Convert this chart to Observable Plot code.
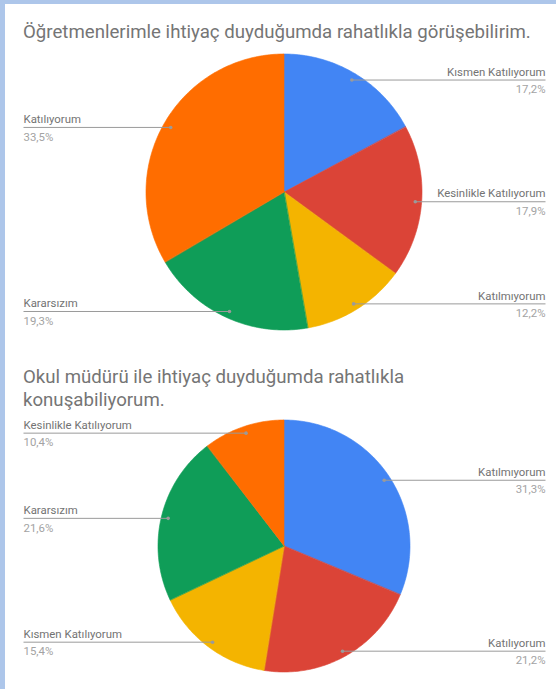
<!DOCTYPE html>
<html><head><meta charset="utf-8">
<script src="https://cdn.jsdelivr.net/npm/d3@7"></script>
<script src="https://cdn.jsdelivr.net/npm/@observablehq/plot@0.6"></script>
<style>
body{margin:0;background:#fff;font-family:Roboto, sans-serif;}
#page{position:relative;width:556px;height:689px;overflow:hidden;background:#fff;}
#bl{position:absolute;left:0;top:0;width:5px;height:689px;background:#adc6ea;}
#bt{position:absolute;left:0;top:0;width:556px;height:4px;background:#adc6ea;}
.title{position:absolute;left:23px;font-size:18.65px;color:#757575;line-height:23px;white-space:nowrap;font-family:Roboto, sans-serif;}
.chart{position:absolute;left:0;}
</style></head><body>
<div id="page">
 <div id="bt"></div><div id="bl"></div>
 <div class="title" id="t1" style="top:21px"></div>
 <div class="chart" id="c1" style="top:48px"></div>
 <div class="title" id="t2" style="top:366px"></div>
 <div class="chart" id="c2" style="top:412px"></div>
</div>
<script>
const title1 = "Öğretmenlerimle ihtiyaç duyduğumda rahatlıkla görüşebilirim.";
const categories1 = ["Kısmen Katılıyorum","Kesinlikle Katılıyorum","Katılmıyorum","Kararsızım","Katılıyorum"];
const values1 = [17.2,17.9,12.2,19.3,33.5];

const title2Lines = ["Okul müdürü ile ihtiyaç duyduğumda rahatlıkla","konuşabiliyorum."];
const categories2 = ["Katılmıyorum","Katılıyorum","Kısmen Katılıyorum","Kararsızım","Kesinlikle Katılıyorum"];
const values2 = [31.3,21.2,15.4,21.6,10.4];

const palette = ["#4285f4","#db4437","#f4b400","#0f9d58","#ff6d00"];

document.getElementById("t1").textContent = title1;
document.getElementById("t2").innerHTML = title2Lines.join("<br>");

function pieChart(cats, vals, {height, cx, cy, r}) {
  const W = 556, ML = 23, MR = 11;
  const total = d3.sum(vals);
  const slices = [];
  let acc = 0;
  cats.forEach((c, i) => {
    const a0 = acc / total * 2 * Math.PI;
    acc += vals[i];
    const a1 = acc / total * 2 * Math.PI;
    slices.push({c, v: vals[i], a0, a1, m: (a0 + a1) / 2});
  });
  const arcPts = slices.flatMap(s => {
    const n = Math.max(2, Math.ceil((s.a1 - s.a0) / (Math.PI / 180)));
    return d3.range(n + 1).map(k => {
      const t = s.a0 + (s.a1 - s.a0) * k / n;
      return {c: s.c, x: Math.sin(t), y: Math.cos(t)};
    });
  });
  // frame edges expressed in the x scale's data units
  const edgeR = (W - MR - cx) / r, edgeL = (ML - cx) / r;
  const labels = slices.map(s => {
    const right = Math.sin(s.m) > 0;
    return {
      c: s.c,
      pct: s.v.toFixed(1).replace(".", ",") + "%",
      x: 0.95 * Math.sin(s.m),
      y: 0.95 * Math.cos(s.m),
      edge: right ? edgeR : edgeL,
      right
    };
  });
  const R = labels.filter(d => d.right), L = labels.filter(d => !d.right);
  const nameStyle = {fill: "#737373", fontSize: 11.4, dy: -8};
  const pctStyle = {fill: "#a3a3a3", fontSize: 11.4, dy: 9.5};
  return Plot.plot({
    width: W, height,
    marginLeft: ML, marginRight: MR, marginTop: 0, marginBottom: 0,
    x: {domain: [-1, 1], range: [cx - r, cx + r], axis: null},
    y: {domain: [-1, 1], range: [cy + r, cy - r], axis: null},
    color: {domain: cats, range: palette},
    style: {fontFamily: "Roboto, sans-serif", background: "transparent", overflow: "visible"},
    marks: [
      Plot.area(arcPts, {x1: "x", y1: "y", x2: () => 0, y2: () => 0, z: "c", fill: "c", stroke: "c", strokeWidth: 0.6, curve: "linear"}),
      Plot.link(labels, {x1: "x", y1: "y", x2: "edge", y2: "y", stroke: "#9a9a9a", strokeWidth: 1}),
      Plot.dot(labels, {x: "x", y: "y", r: 1.8, fill: "#9a9a9a", stroke: "none"}),
      Plot.text(R, {y: "y", text: "c", frameAnchor: "right", textAnchor: "end", ...nameStyle}),
      Plot.text(R, {y: "y", text: "pct", frameAnchor: "right", textAnchor: "end", ...pctStyle}),
      Plot.text(L, {y: "y", text: "c", frameAnchor: "left", textAnchor: "start", ...nameStyle}),
      Plot.text(L, {y: "y", text: "pct", frameAnchor: "left", textAnchor: "start", ...pctStyle})
    ]
  });
}

document.getElementById("c1").append(pieChart(categories1, values1, {height: 300, cx: 284, cy: 144, r: 138}));
document.getElementById("c2").append(pieChart(categories2, values2, {height: 277, cx: 284, cy: 134, r: 126}));
</script>
</body></html>
